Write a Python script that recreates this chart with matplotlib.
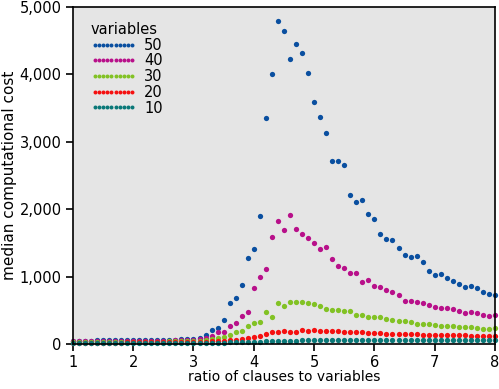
import numpy as np
import matplotlib
matplotlib.use('Agg')
import matplotlib.pyplot as plt
from matplotlib.ticker import FuncFormatter

font = {'family': 'DejaVu Sans',
        'size': 10.5}
matplotlib.rc('font', **font)

# clause/variable ratio, 1.0 .. 8.0 in steps of 0.1
ratio = np.round(np.arange(10, 81) / 10.0, 1)

cost_50 = [50, 50, 50, 51, 52, 52, 53, 53, 54, 54, 55, 55, 56, 57, 58,
           60, 63, 66, 70, 75, 80, 88, 129, 210, 242, 360, 613, 690, 878, 1281,
           1409, 1904, 3358, 4006, 4792, 4648, 4233, 4455, 4318, 4016,
           3595, 3372, 3126, 2720, 2720, 2656, 2211, 2107, 2136, 1924,
           1859, 1637, 1562, 1543, 1424, 1316, 1296, 1310, 1221, 1088,
           1024, 1039, 979, 935, 890, 846, 861, 835, 772, 742, 732]

cost_40 = [40, 40, 40, 41, 41, 42, 42, 43, 43, 44, 44, 45, 45, 46, 47,
           48, 50, 52, 55, 58, 62, 68, 82, 123, 173, 178, 272, 314, 420, 477,
           835, 987, 1118, 1588, 1830, 1691, 1909, 1711, 1632, 1573,
           1503, 1409, 1444, 1261, 1162, 1132, 1058, 1048, 925, 950,
           861, 846, 801, 776, 727, 643, 643, 628, 613, 579,
           554, 539, 529, 514, 490, 465, 470, 455, 435, 415, 435]

cost_30 = [30, 30, 30, 30, 31, 31, 31, 32, 32, 32, 33, 33, 34, 34, 35,
           36, 37, 38, 40, 42, 44, 48, 52, 69, 89, 101, 136, 178, 193, 274,
           317, 320, 480, 406, 608, 564, 618, 623, 618, 613,
           589, 569, 519, 509, 509, 490, 490, 430, 425, 405,
           396, 396, 371, 351, 346, 341, 326, 302, 297, 302,
           287, 272, 272, 272, 247, 247, 252, 242, 228, 228, 233]

cost_20 = [20, 20, 20, 21, 21, 21, 22, 22, 22, 23, 23, 23, 24, 24, 25,
           26, 27, 28, 29, 30, 32, 34, 36, 40, 44, 48, 55, 65, 74, 88,
           110, 124, 143, 183, 183, 193, 183, 178, 208, 198,
           213, 198, 193, 193, 193, 173, 183, 173, 173, 168,
           168, 163, 153, 153, 153, 153, 143, 143, 140, 140,
           138, 135, 135, 130, 128, 128, 125, 125, 118, 115, 118]

cost_10 = [10, 10, 10, 10, 10, 11, 11, 11, 11, 12, 12, 12, 12, 13, 13,
           13, 14, 14, 14, 15, 15, 16, 17, 18, 20, 22, 24, 26, 28, 30,
           32, 35, 38, 40, 42, 45, 48, 50, 52, 52,
           55, 55, 55, 56, 56, 56, 55, 57, 56, 57,
           57, 56, 57, 58, 57, 57, 58, 58, 57, 58,
           58, 58, 59, 58, 59, 59, 58, 59, 59, 60, 60]

labels = ['50', '40', '30', '20', '10']
colors = ['#0a4fa0', '#b8108a', '#82c224', '#f51010', '#0a7878']
series = [cost_50, cost_40, cost_30, cost_20, cost_10]

fig = plt.figure(figsize=(4.99, 3.89), dpi=100)
ax = fig.add_axes([0.146, 0.1157, 0.846, 0.866])
ax.set_facecolor('#e5e5e5')

for vals, lab, col in zip(series, labels, colors):
    ax.plot(ratio, vals, linestyle='none', marker='o', markersize=3.8,
            markeredgewidth=0, color=col, label=lab, clip_on=False)

ax.set_xlim(1, 8)
ax.set_ylim(0, 5000)
ax.set_xticks(range(1, 9))
ax.set_yticks(range(0, 5001, 1000))
ax.yaxis.set_major_formatter(FuncFormatter(lambda v, p: '{:,}'.format(int(v))))
ax.tick_params(direction='out', length=5, width=1.2, pad=3)
for s in ax.spines.values():
    s.set_linewidth(1.2)

ax.set_xlabel('ratio of clauses to variables', fontsize=10, labelpad=0)
ax.set_ylabel('median computational cost', fontsize=11, labelpad=2)

leg = ax.legend(title='variables', loc='upper left', frameon=False,
                numpoints=10, markerscale=0.75, handlelength=3.2,
                handletextpad=0.5, labelspacing=0.05,
                bbox_to_anchor=(0.01, 0.995), alignment='left')
leg.get_title().set_fontsize(10.5)

plt.savefig('out.png', dpi=100)
